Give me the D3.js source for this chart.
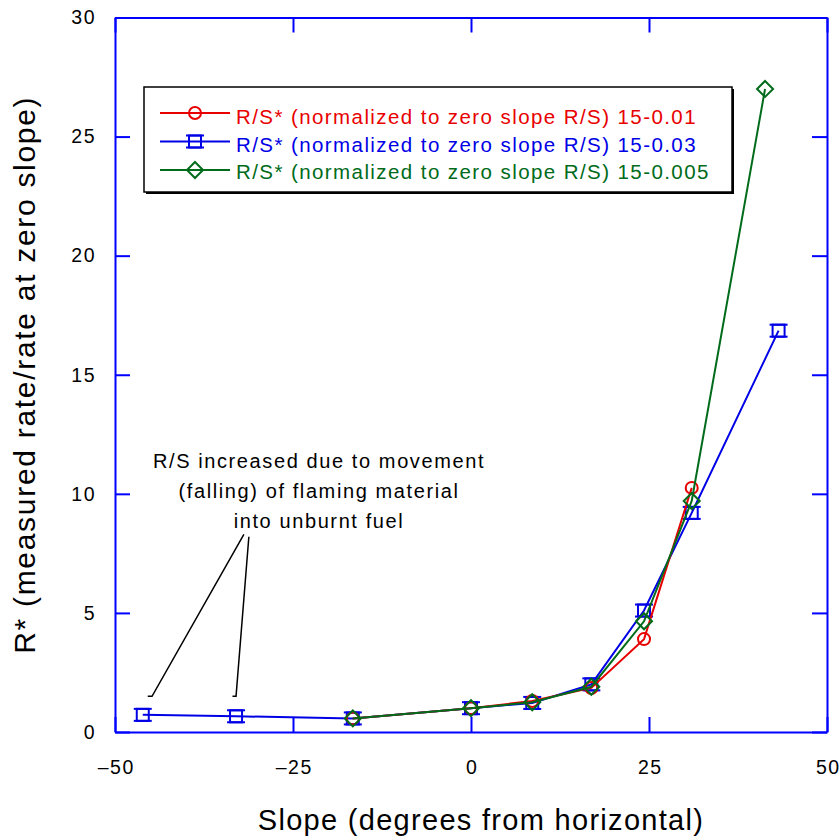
<!DOCTYPE html>
<html>
<head>
<meta charset="utf-8">
<script src="https://cdn.jsdelivr.net/npm/d3@7"></script>
<style>
  body { margin: 0; background: #fff; }
  text { font-family: "Liberation Sans", Arial, sans-serif; }
</style>
</head>
<body>
<div id="container"></div>
<script>
// Chart data
let slopeRed = [-16.6, 0, 8.6, 16.9, 24.3, 31.0];
let rsRed = [0.57, 1.0, 1.3, 1.85, 3.9, 10.25];
let slopeBlue = [-46.1, -33.0, -16.6, 0, 8.6, 16.9, 24.3, 31.0, 43.2];
let rsBlue = [0.72, 0.66, 0.57, 1.0, 1.22, 2.0, 5.1, 9.2, 16.85];
let slopeGreen = [-16.6, 0, 8.6, 16.9, 24.3, 31.0, 41.3];
let rsGreen = [0.57, 1.0, 1.25, 1.9, 4.65, 9.7, 27.0];
let legendLabels = [
  "R/S* (normalized to zero slope R/S) 15-0.01",
  "R/S* (normalized to zero slope R/S) 15-0.03",
  "R/S* (normalized to zero slope R/S) 15-0.005"
];
let xTicks = [-50, -25, 0, 25, 50];
let yTicks = [0, 5, 10, 15, 20, 25, 30];
let noteLines = ["R/S increased due to movement", "(falling) of flaming material", "into unburnt fuel"];

function BuildGraph(){
  let chartWidth = 839;
  let chartHeight = 837;
  let left = 115, right = 827, top = 17.5, bottom = 732;
  let axisColor = "#0000ff";
  let tickLen = 15;

  let svg = d3.select('#container')
    .append('svg')
    .attr('width', chartWidth)
    .attr('height', chartHeight);

  let xScale = d3.scaleLinear().domain([-50, 50]).range([left, right]);
  let yScale = d3.scaleLinear().domain([0, 30]).range([bottom, top]);

  // Frame with inward ticks on all four sides
  let fmt = (d) => d < 0 ? "\u2013" + Math.abs(d) : String(d);
  svg.append('g')
    .attr('transform', 'translate(0,' + bottom + ')')
    .call(d3.axisBottom(xScale).tickValues(xTicks).tickSizeInner(-tickLen).tickSizeOuter(0).tickPadding(28).tickFormat(fmt))
    .call(g => g.select('.domain').attr('stroke', axisColor).attr('stroke-width', 2))
    .call(g => g.selectAll('.tick line').attr('stroke', axisColor).attr('stroke-width', 2))
    .call(g => g.selectAll('.tick text').attr('fill', '#000').attr('dx', '0.75px')
      .style('font-size', '19.5px').style('letter-spacing', '1.5px'));
  svg.append('g')
    .attr('transform', 'translate(0,' + top + ')')
    .call(d3.axisTop(xScale).tickValues(xTicks).tickSizeInner(-tickLen).tickSizeOuter(0).tickFormat(''))
    .call(g => g.select('.domain').attr('stroke', axisColor).attr('stroke-width', 2))
    .call(g => g.selectAll('.tick line').attr('stroke', axisColor).attr('stroke-width', 2));
  svg.append('g')
    .attr('transform', 'translate(' + left + ',0)')
    .call(d3.axisLeft(yScale).tickValues(yTicks).tickSizeInner(-tickLen).tickSizeOuter(0).tickPadding(tickLen + 4))
    .call(g => g.select('.domain').attr('stroke', axisColor).attr('stroke-width', 2))
    .call(g => g.selectAll('.tick line').attr('stroke', axisColor).attr('stroke-width', 2))
    .call(g => g.selectAll('.tick text').attr('fill', '#000')
      .style('font-size', '19.5px').style('letter-spacing', '1.5px'));
  svg.append('g')
    .attr('transform', 'translate(' + right + ',0)')
    .call(d3.axisRight(yScale).tickValues(yTicks).tickSizeInner(-tickLen).tickSizeOuter(0).tickFormat(''))
    .call(g => g.select('.domain').attr('stroke', axisColor).attr('stroke-width', 2))
    .call(g => g.selectAll('.tick line').attr('stroke', axisColor).attr('stroke-width', 2));

  // Axis titles
  svg.append('text')
    .attr('x', (left + right) / 2 + 10)
    .attr('y', 830)
    .attr('text-anchor', 'middle')
    .style('font-size', '29px')
    .style('letter-spacing', '1.3px')
    .text('Slope (degrees from horizontal)');
  svg.append('text')
    .attr('transform', 'translate(35,' + ((top + bottom) / 2) + ') rotate(-90)')
    .attr('text-anchor', 'middle')
    .style('font-size', '30px')
    .style('letter-spacing', '1.7px')
    .text('R* (measured rate/rate at zero slope)');

  // Marker drawers
  function circleMark(g, col){
    g.append('circle').attr('r', 6).attr('fill', 'none').attr('stroke', col).attr('stroke-width', 2);
  }
  function squareMark(g, col){
    g.append('rect').attr('x', -6).attr('y', -6).attr('width', 12).attr('height', 12)
      .attr('fill', 'none').attr('stroke', col).attr('stroke-width', 2);
    g.append('line').attr('x1', -9).attr('x2', 9).attr('y1', -6).attr('y2', -6).attr('stroke', col).attr('stroke-width', 2);
    g.append('line').attr('x1', -9).attr('x2', 9).attr('y1', 6).attr('y2', 6).attr('stroke', col).attr('stroke-width', 2);
  }
  function diamondMark(g, col){
    g.append('path').attr('d', 'M0,-8L8,0L0,8L-8,0Z').attr('fill', 'none').attr('stroke', col).attr('stroke-width', 2);
  }

  let seriesList = [
    {xs: slopeRed, ys: rsRed, color: '#e80000', mark: circleMark},
    {xs: slopeBlue, ys: rsBlue, color: '#0000e6', mark: squareMark},
    {xs: slopeGreen, ys: rsGreen, color: '#006b1a', mark: diamondMark}
  ];
  let drawOrder = [1, 0, 2];

  let line = d3.line().x(d => xScale(d[0])).y(d => yScale(d[1]));
  drawOrder.forEach(function(i){
    let s = seriesList[i];
    let pts = d3.zip(s.xs, s.ys);
    svg.append('path')
      .datum(pts)
      .attr('d', line)
      .attr('fill', 'none')
      .attr('stroke', s.color)
      .attr('stroke-width', 2);
    svg.append('g')
      .selectAll('g')
      .data(pts)
      .enter()
      .append('g')
      .attr('transform', d => 'translate(' + xScale(d[0]) + ',' + yScale(d[1]) + ')')
      .each(function(){ s.mark(d3.select(this), s.color); });
  });

  // Legend
  let legend = svg.append('g');
  legend.append('rect')
    .attr('x', 146).attr('y', 89).attr('width', 588).attr('height', 105)
    .attr('fill', '#000');
  legend.append('rect')
    .attr('x', 144).attr('y', 87).attr('width', 588).attr('height', 105)
    .attr('fill', '#fff').attr('stroke', '#000').attr('stroke-width', 1.5);
  legendLabels.forEach(function(lbl, i){
    let s = seriesList[i];
    let yy = 113 + i * 28.5;
    legend.append('line').attr('x1', 160).attr('x2', 230).attr('y1', yy).attr('y2', yy)
      .attr('stroke', s.color).attr('stroke-width', 2);
    let mg = legend.append('g').attr('transform', 'translate(195,' + yy + ')');
    s.mark(mg, s.color);
    legend.append('text')
      .attr('x', 236).attr('y', 124 + i * 27.5)
      .attr('fill', s.color)
      .style('font-size', '20.5px')
      .style('letter-spacing', '1.42px')
      .text(lbl);
  });

  // Annotation
  let note = svg.append('g');
  noteLines.forEach(function(t, i){
    note.append('text')
      .attr('x', 319).attr('y', 468 + i * 30)
      .attr('text-anchor', 'middle')
      .style('font-size', '20px')
      .style('letter-spacing', '1.6px')
      .text(t);
  });
  let pointers = [
    [[-31.9, 8.3], [-44.8, 1.5], [-45.4, 1.5]],
    [[-31.2, 8.2], [-33.0, 1.5], [-33.5, 1.5]]
  ];
  pointers.forEach(function(p){
    note.append('path')
      .attr('d', line(p))
      .attr('fill', 'none')
      .attr('stroke', '#000')
      .attr('stroke-width', 1.5);
  });
}

BuildGraph();
</script>
</body>
</html>
